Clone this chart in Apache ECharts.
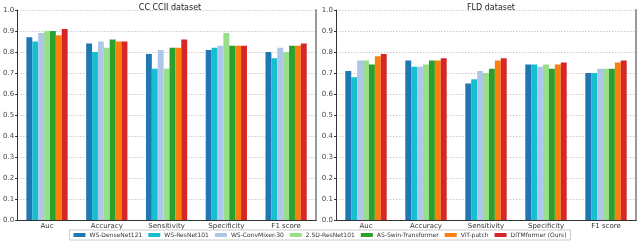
<!DOCTYPE html>
<html><head><meta charset="utf-8">
<script src="https://cdn.jsdelivr.net/npm/echarts@6/dist/echarts.min.js"></script>
<style>html,body{margin:0;padding:0;background:#fff}#c{width:640px;height:241px}</style>
</head><body><div id="c"></div>
<script>
const categories = ["Auc", "Accuracy", "Sensitivity", "Specificity", "F1 score"];
const methods = ["WS-DenseNet121", "WS-ResNet101", "WS-ConvMixer-30", "2.5D-ResNet101", "AS-Swin-Transformer", "ViT-patch", "DiTMformer (Ours)"];
const colors = ["#1f77b4", "#17becf", "#aec7e8", "#98df8a", "#2ca02c", "#ff7f0e", "#d62728"];
const titles = ["CC CCII dataset", "FLD dataset"];
const yTicks = [0.0, 0.1, 0.2, 0.3, 0.4, 0.5, 0.6, 0.7, 0.8, 0.9, 1.0];
// values per method, per category
const ccData = [
  [0.87, 0.84, 0.79, 0.81, 0.80],
  [0.85, 0.80, 0.72, 0.82, 0.77],
  [0.89, 0.85, 0.81, 0.83, 0.82],
  [0.90, 0.82, 0.72, 0.89, 0.80],
  [0.90, 0.86, 0.82, 0.83, 0.83],
  [0.88, 0.85, 0.82, 0.83, 0.83],
  [0.91, 0.85, 0.86, 0.83, 0.84]
];
const fldData = [
  [0.71, 0.76, 0.65, 0.74, 0.70],
  [0.68, 0.73, 0.67, 0.74, 0.70],
  [0.76, 0.73, 0.71, 0.73, 0.72],
  [0.76, 0.74, 0.70, 0.74, 0.72],
  [0.74, 0.76, 0.72, 0.72, 0.72],
  [0.78, 0.76, 0.76, 0.74, 0.75],
  [0.79, 0.77, 0.77, 0.75, 0.76]
];

const font = "DejaVu Sans";
const chart = echarts.init(document.getElementById('c'), null, {renderer: 'canvas'});
const grids = [
  {left: 14, top: 10, width: 302, height: 210},
  {left: 336, top: 10, width: 300, height: 210}
];
function xAxis(i) {
  return {type: 'category', gridIndex: i, data: categories,
    axisLine: {lineStyle: {color: '#333', width: 1}},
    axisTick: {show: false},
    axisLabel: {fontFamily: font, fontSize: 7, color: '#333', margin: 3},
    splitLine: {show: false}};
}
function yAxis(i) {
  return {type: 'value', gridIndex: i, min: 0, max: 1, interval: 0.1,
    axisLine: {show: true, lineStyle: {color: '#333', width: 1}},
    axisTick: {show: true, length: 2, lineStyle: {color: '#333'}},
    axisLabel: {fontFamily: font, fontSize: 7, color: '#444', margin: 3,
      formatter: v => { const t = yTicks.find(x => Math.abs(x - v) < 1e-6); return t === undefined ? '' : t.toFixed(1); }},
    splitLine: {show: true, lineStyle: {color: '#ccc', type: [1.5, 1.5], width: 1}}};
}
function yBorder(i) {
  return {type: 'value', gridIndex: i, min: 0, max: 1, position: 'right',
    axisLine: {show: true, lineStyle: {color: '#999', width: 2}},
    axisTick: {show: false}, axisLabel: {show: false}, splitLine: {show: false}};
}
const series = [];
[ccData, fldData].forEach((data, g) => {
  methods.forEach((m, k) => {
    series.push({name: m, type: 'bar', xAxisIndex: g, yAxisIndex: g * 2,
      data: data[k], barGap: '0%', barCategoryGap: '31%',
      itemStyle: {color: colors[k]}, silent: true});
  });
});
chart.setOption({
  animation: false,
  textStyle: {fontFamily: font},
  title: titles.map((t, i) => ({text: t, left: i === 0 ? 165 : 486, top: -1, textAlign: 'center',
    textStyle: {fontFamily: font, fontSize: 8, fontWeight: 'normal', color: '#222'}})),
  grid: grids,
  xAxis: [xAxis(0), xAxis(1)],
  yAxis: [yAxis(0), yBorder(0), yAxis(1), yBorder(1)],
  legend: {data: methods, left: 'center', bottom: 1, itemWidth: 12, itemHeight: 4, itemGap: 6,
    icon: 'rect', padding: [2, 4], borderColor: '#ccc', borderWidth: 1,
    textStyle: {fontFamily: font, fontSize: 6, color: '#333', padding: [0, 0, 0, -1]}},
  series: series
});
</script></body></html>
